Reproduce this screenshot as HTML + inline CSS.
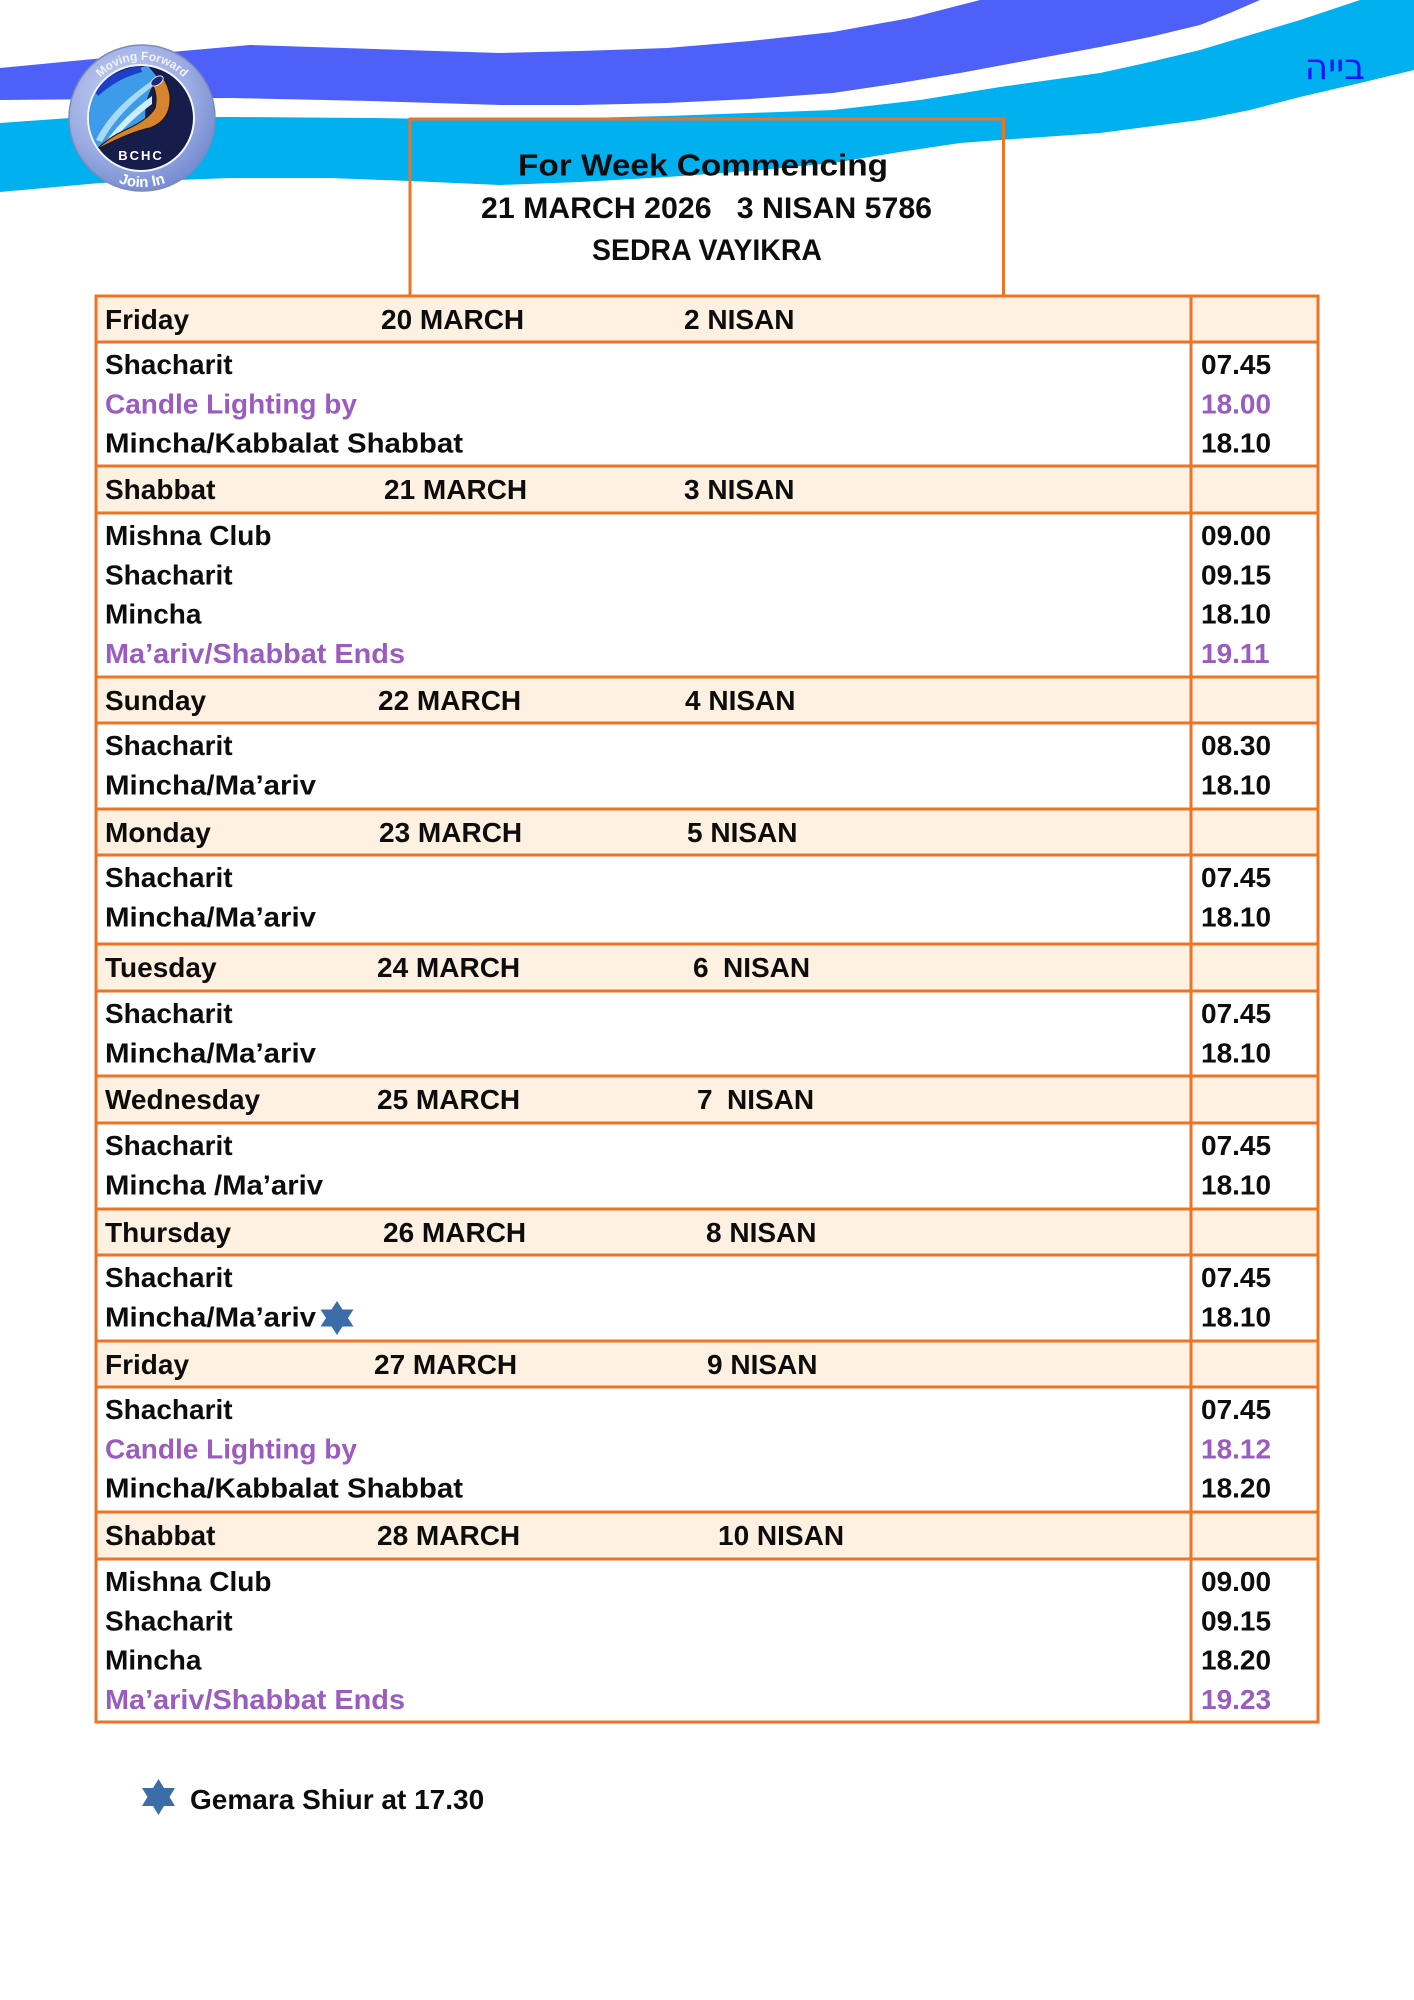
<!DOCTYPE html>
<html>
<head>
<meta charset="utf-8">
<style>
html,body{margin:0;padding:0;background:#fff;}
svg{display:block;}
.t{font-family:"Liberation Sans",Arial,sans-serif;font-weight:700;font-size:28px;fill:#0d0d0d;}
.p{fill:#9b5cc0;}
.ttl{font-family:"Liberation Sans",Arial,sans-serif;font-weight:700;fill:#0d0d0d;}
</style>
</head>
<body>
<svg width="1414" height="2000" viewBox="0 0 1414 2000" xmlns="http://www.w3.org/2000/svg">
<defs>
  <radialGradient id="ring" cx="40%" cy="35%" r="70%">
    <stop offset="0" stop-color="#c8d3f3"/>
    <stop offset="0.6" stop-color="#9daee3"/>
    <stop offset="1" stop-color="#7088d0"/>
  </radialGradient>
  <clipPath id="inner"><circle cx="141" cy="118" r="52"/></clipPath>
  <path id="arcTop" d="M 84 118 A 58 58 0 0 1 200 118"/>
  <path id="arcBot" d="M 73 118 A 69 69 0 0 0 211 118"/>
</defs>

<!-- waves -->
<polygon fill="#4d61f9" points="0,68 125,56 250,45 375,49 500,53 580,51 667,48 750,41 833,32 910,18 980,0 1260,0 1230,13 1200,25 1150,37 1100,47 1030,60 960,73 900,83 833,93 750,99 667,103 580,105 500,105 370,101 230,98 120,99 0,100"/>
<polygon fill="#00b0ef" points="0,123 70,118 230,117 370,118 500,120 667,116 833,110 920,100 1000,87 1100,73 1150,62 1200,50 1250,35 1300,20 1360,0 1414,0 1414,70 1360,83 1300,97 1250,110 1200,120 1100,133 1000,140 960,143 900,152 833,163 750,171 667,177 580,182 500,185 410,181 330,178 230,178 100,183 0,192"/>

<!-- logo -->
<g>
  <circle cx="142" cy="118" r="73" fill="url(#ring)" stroke="#7d8bb5" stroke-width="1.5"/>
  <circle cx="141" cy="118" r="54" fill="#f4f6ff"/>
  <circle cx="141" cy="118" r="52" fill="#161d4a"/>
  <g clip-path="url(#inner)">
    <path d="M 86 95 Q 110 72 148 66 L 158 78 Q 142 98 146 124 Q 120 136 92 152 Q 82 125 86 95 Z" fill="#3d9be9"/>
    <path d="M 92 88 Q 115 70 140 66 L 142 72 Q 118 78 98 96 Z" fill="#1d3fc8"/>
    <path d="M 96 140 Q 110 110 150 82 L 153 86 Q 118 112 102 142 Z" fill="#a6daf7"/>
    <path d="M 104 144 Q 122 118 152 96 L 152 104 Q 128 122 112 142 Z" fill="#cfeefc"/>
    <path d="M 96 150 Q 130 132 150 128 Q 172 120 170 95 Q 168 84 163 78 L 152 84 Q 158 95 155 108 Q 148 120 125 130 Q 108 138 96 150 Z" fill="#d5842f" stroke="#24150c" stroke-width="1.2"/>
    <ellipse cx="157" cy="81" rx="7" ry="4" transform="rotate(-35 157 81)" fill="#1a2a80" stroke="#e6e6e6" stroke-width="1"/>
  </g>
  <text x="141" y="160" text-anchor="middle" font-family="Liberation Sans, Arial, sans-serif" font-size="13" font-weight="700" fill="#ffffff" letter-spacing="2">BCHC</text>
  <text font-family="Liberation Sans, Arial, sans-serif" font-size="12" fill="#f0f3ff" font-weight="700"><textPath href="#arcTop" startOffset="50%" text-anchor="middle">Moving Forward</textPath></text>
  <text font-family="Liberation Sans, Arial, sans-serif" font-size="15" fill="#ffffff" font-weight="700"><textPath href="#arcBot" startOffset="50%" text-anchor="middle">Join In</textPath></text>
</g>

<!-- Hebrew -->
<text x="1365" y="79" text-anchor="end" font-family="DejaVu Sans, Liberation Sans, sans-serif" font-size="36" fill="#1414ff">בייה</text>

<!-- title box -->
<path d="M 410 296 L 410 119 L 1003.5 119 L 1003.5 296" fill="none" stroke="#ec7424" stroke-width="3"/>
<text class="ttl" x="518" y="175.5" font-size="31" textLength="370" lengthAdjust="spacingAndGlyphs">For Week Commencing</text>
<text class="ttl" x="481" y="218" font-size="29.5" textLength="451" lengthAdjust="spacingAndGlyphs" style="white-space:pre">21 MARCH 2026   3 NISAN 5786</text>
<text class="ttl" x="592" y="260" font-size="29.5" textLength="230" lengthAdjust="spacingAndGlyphs">SEDRA VAYIKRA</text>

<!-- header fills -->
<g fill="#fef1e1">
  <rect x="96" y="296" width="1222" height="46"/>
  <rect x="96" y="466" width="1222" height="47"/>
  <rect x="96" y="677" width="1222" height="46"/>
  <rect x="96" y="809" width="1222" height="46"/>
  <rect x="96" y="944" width="1222" height="47"/>
  <rect x="96" y="1076" width="1222" height="47"/>
  <rect x="96" y="1209" width="1222" height="46"/>
  <rect x="96" y="1341" width="1222" height="46"/>
  <rect x="96" y="1512" width="1222" height="47"/>
</g>

<!-- grid lines -->
<g stroke="#ec7424" stroke-width="3">
  <line x1="94.5" y1="296" x2="1319.5" y2="296"/>
  <line x1="94.5" y1="342" x2="1319.5" y2="342"/>
  <line x1="94.5" y1="466" x2="1319.5" y2="466"/>
  <line x1="94.5" y1="513" x2="1319.5" y2="513"/>
  <line x1="94.5" y1="677" x2="1319.5" y2="677"/>
  <line x1="94.5" y1="723" x2="1319.5" y2="723"/>
  <line x1="94.5" y1="809" x2="1319.5" y2="809"/>
  <line x1="94.5" y1="855" x2="1319.5" y2="855"/>
  <line x1="94.5" y1="944" x2="1319.5" y2="944"/>
  <line x1="94.5" y1="991" x2="1319.5" y2="991"/>
  <line x1="94.5" y1="1076" x2="1319.5" y2="1076"/>
  <line x1="94.5" y1="1123" x2="1319.5" y2="1123"/>
  <line x1="94.5" y1="1209" x2="1319.5" y2="1209"/>
  <line x1="94.5" y1="1255" x2="1319.5" y2="1255"/>
  <line x1="94.5" y1="1341" x2="1319.5" y2="1341"/>
  <line x1="94.5" y1="1387" x2="1319.5" y2="1387"/>
  <line x1="94.5" y1="1512" x2="1319.5" y2="1512"/>
  <line x1="94.5" y1="1559" x2="1319.5" y2="1559"/>
  <line x1="94.5" y1="1722" x2="1319.5" y2="1722"/>
  <line x1="96" y1="294.5" x2="96" y2="1723.5"/>
  <line x1="1191" y1="294.5" x2="1191" y2="1723.5"/>
  <line x1="1318" y1="294.5" x2="1318" y2="1723.5"/>
</g>

<!-- header texts -->
<g class="t" style="white-space:pre">
  <text class="t" x="105" y="329">Friday</text>
  <text class="t" x="381" y="329">20 MARCH</text>
  <text class="t" x="684" y="329">2 NISAN</text>

  <text class="t" x="105" y="499">Shabbat</text>
  <text class="t" x="384" y="499">21 MARCH</text>
  <text class="t" x="684" y="499">3 NISAN</text>

  <text class="t" x="105" y="710">Sunday</text>
  <text class="t" x="378" y="710">22 MARCH</text>
  <text class="t" x="685" y="710">4 NISAN</text>

  <text class="t" x="105" y="842">Monday</text>
  <text class="t" x="379" y="842">23 MARCH</text>
  <text class="t" x="687" y="842">5 NISAN</text>

  <text class="t" x="105" y="977">Tuesday</text>
  <text class="t" x="377" y="977">24 MARCH</text>
  <text class="t" x="693" y="977">6</text>
  <text class="t" x="723" y="977">NISAN</text>

  <text class="t" x="105" y="1109">Wednesday</text>
  <text class="t" x="377" y="1109">25 MARCH</text>
  <text class="t" x="697" y="1109">7</text>
  <text class="t" x="727" y="1109">NISAN</text>

  <text class="t" x="105" y="1242">Thursday</text>
  <text class="t" x="383" y="1242">26 MARCH</text>
  <text class="t" x="706" y="1242">8 NISAN</text>

  <text class="t" x="105" y="1374">Friday</text>
  <text class="t" x="374" y="1374">27 MARCH</text>
  <text class="t" x="707" y="1374">9 NISAN</text>

  <text class="t" x="105" y="1545">Shabbat</text>
  <text class="t" x="377" y="1545">28 MARCH</text>
  <text class="t" x="718" y="1545">10 NISAN</text>
</g>

<!-- body texts -->
<g>
  <text class="t" x="105" y="374">Shacharit</text>
  <text class="t" x="1201" y="374">07.45</text>
  <text class="t p" x="105" y="413.3">Candle Lighting by</text>
  <text class="t p" x="1201" y="413.3">18.00</text>
  <text class="t" x="105" y="452.6" textLength="358" lengthAdjust="spacingAndGlyphs">Mincha/Kabbalat Shabbat</text>
  <text class="t" x="1201" y="452.6">18.10</text>

  <text class="t" x="105" y="545">Mishna Club</text>
  <text class="t" x="1201" y="545">09.00</text>
  <text class="t" x="105" y="584.3">Shacharit</text>
  <text class="t" x="1201" y="584.3">09.15</text>
  <text class="t" x="105" y="623.6">Mincha</text>
  <text class="t" x="1201" y="623.6">18.10</text>
  <text class="t p" x="105" y="662.9" textLength="300" lengthAdjust="spacingAndGlyphs">Ma’ariv/Shabbat Ends</text>
  <text class="t p" x="1201" y="662.9">19.11</text>

  <text class="t" x="105" y="755">Shacharit</text>
  <text class="t" x="1201" y="755">08.30</text>
  <text class="t" x="105" y="794.3" textLength="211" lengthAdjust="spacingAndGlyphs">Mincha/Ma’ariv</text>
  <text class="t" x="1201" y="794.3">18.10</text>

  <text class="t" x="105" y="887">Shacharit</text>
  <text class="t" x="1201" y="887">07.45</text>
  <text class="t" x="105" y="926.3" textLength="211" lengthAdjust="spacingAndGlyphs">Mincha/Ma’ariv</text>
  <text class="t" x="1201" y="926.3">18.10</text>

  <text class="t" x="105" y="1023">Shacharit</text>
  <text class="t" x="1201" y="1023">07.45</text>
  <text class="t" x="105" y="1062.3" textLength="211" lengthAdjust="spacingAndGlyphs">Mincha/Ma’ariv</text>
  <text class="t" x="1201" y="1062.3">18.10</text>

  <text class="t" x="105" y="1155">Shacharit</text>
  <text class="t" x="1201" y="1155">07.45</text>
  <text class="t" x="105" y="1194.3" textLength="218" lengthAdjust="spacingAndGlyphs">Mincha /Ma’ariv</text>
  <text class="t" x="1201" y="1194.3">18.10</text>

  <text class="t" x="105" y="1287">Shacharit</text>
  <text class="t" x="1201" y="1287">07.45</text>
  <text class="t" x="105" y="1326.3" textLength="211" lengthAdjust="spacingAndGlyphs">Mincha/Ma’ariv</text>
  <text class="t" x="1201" y="1326.3">18.10</text>

  <text class="t" x="105" y="1419">Shacharit</text>
  <text class="t" x="1201" y="1419">07.45</text>
  <text class="t p" x="105" y="1458.3">Candle Lighting by</text>
  <text class="t p" x="1201" y="1458.3">18.12</text>
  <text class="t" x="105" y="1497.6" textLength="358" lengthAdjust="spacingAndGlyphs">Mincha/Kabbalat Shabbat</text>
  <text class="t" x="1201" y="1497.6">18.20</text>

  <text class="t" x="105" y="1591">Mishna Club</text>
  <text class="t" x="1201" y="1591">09.00</text>
  <text class="t" x="105" y="1630.3">Shacharit</text>
  <text class="t" x="1201" y="1630.3">09.15</text>
  <text class="t" x="105" y="1669.6">Mincha</text>
  <text class="t" x="1201" y="1669.6">18.20</text>
  <text class="t p" x="105" y="1708.9" textLength="300" lengthAdjust="spacingAndGlyphs">Ma’ariv/Shabbat Ends</text>
  <text class="t p" x="1201" y="1708.9">19.23</text>
</g>

<!-- stars -->
<g fill="#3b6ea8">
  <polygon points="337,1301 353.5,1326.5 320.5,1326.5"/>
  <polygon points="337,1335 353.5,1309.5 320.5,1309.5"/>
  <polygon points="158.5,1779 175,1806 142,1806"/>
  <polygon points="158.5,1815 175,1788 142,1788"/>
</g>

<!-- footer -->
<text class="t" x="190" y="1809">Gemara Shiur at 17.30</text>
</svg>
</body>
</html>
